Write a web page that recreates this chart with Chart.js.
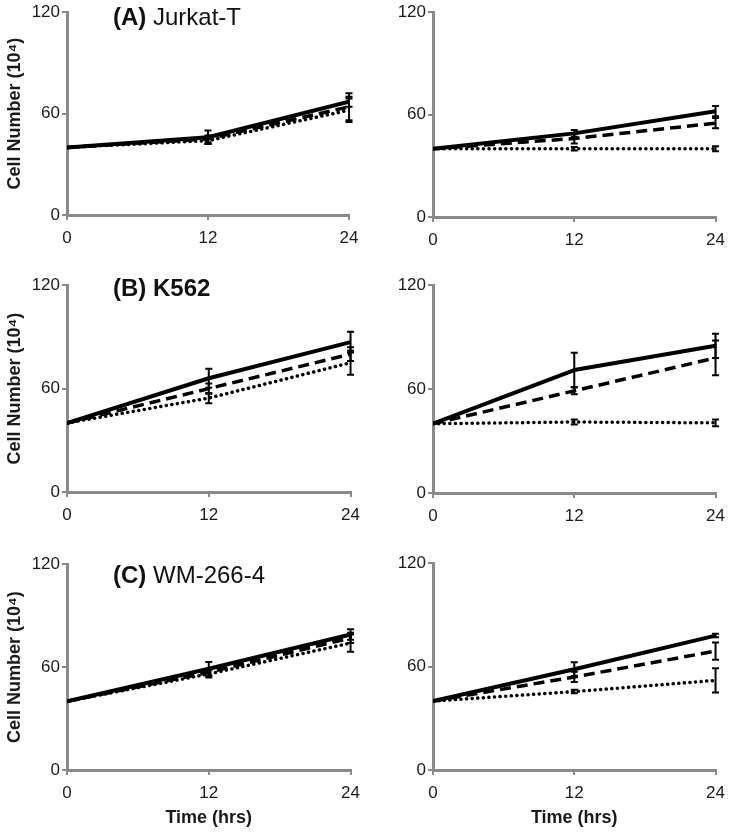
<!DOCTYPE html>
<html>
<head>
<meta charset="utf-8">
<script src="https://cdn.jsdelivr.net/npm/chart.js@4/dist/chart.umd.min.js"></script>
<style>
  html, body { margin: 0; padding: 0; background: #fff; }
  #wrap { position: relative; width: 733px; height: 832px; overflow: hidden; font-family: "Liberation Sans", Arial, sans-serif; }
  canvas { position: absolute; }
  .lbl { position: absolute; font-size: 24px; color: #111; white-space: nowrap; line-height: 1; }
  .lbl b { font-weight: bold; }
</style>
</head>
<body>
<div id="wrap">
  <canvas id="cAL"></canvas>
  <canvas id="cAR"></canvas>
  <canvas id="cBL"></canvas>
  <canvas id="cBR"></canvas>
  <canvas id="cCL"></canvas>
  <canvas id="cCR"></canvas>
  <div class="lbl" style="left:113px;top:5px;"><b>(A)</b> Jurkat-T</div>
  <div class="lbl" style="left:113px;top:276px;"><b>(B) K562</b></div>
  <div class="lbl" style="left:113px;top:563px;"><b>(C)</b> WM-266-4</div>
</div>
<script>
// ---------------- DATA ----------------
const hours = [0, 12, 24];
const yTickValues = [0, 60, 120];
const xTickValues = [0, 12, 24];
const yAxisTitle = 'Cell Number (10\u2074)';
const xAxisTitle = 'Time (hrs)';

// Jurkat-T, left panel
const jurkatL_solid  = [40, 46, 67];
const jurkatL_dashed = [40, 45, 64];
const jurkatL_dotted = [40, 44, 62];
const jurkatL_solidErr  = [0, 4, 3];
const jurkatL_dashedErr = [0, 2, 8];
const jurkatL_dottedErr = [0, 2, 7];

// Jurkat-T, right panel
const jurkatR_solid  = [40, 49, 62];
const jurkatR_dashed = [40, 46, 55];
const jurkatR_dotted = [40, 40, 40];
const jurkatR_solidErr  = [0, 2, 3];
const jurkatR_dashedErr = [0, 3, 3];
const jurkatR_dottedErr = [0, 1, 1.5];

// K562, left panel
const k562L_solid  = [40, 66, 87];
const k562L_dashed = [40, 60, 80];
const k562L_dotted = [40, 54.5, 75];
const k562L_solidErr  = [0, 5.5, 6];
const k562L_dashedErr = [0, 3, 4];
const k562L_dottedErr = [0, 3, 7];

// K562, right panel
const k562R_solid  = [40, 71, 85];
const k562R_dashed = [40, 59, 78];
const k562R_dotted = [40, 41, 40.5];
const k562R_solidErr  = [0, 10, 7];
const k562R_dashedErr = [0, 2, 10];
const k562R_dottedErr = [0, 1.5, 2];

// WM-266-4, left panel
const wmL_solid  = [40, 59, 79];
const wmL_dashed = [40, 57, 77];
const wmL_dotted = [40, 56, 74];
const wmL_solidErr  = [0, 4, 3];
const wmL_dashedErr = [0, 2, 3];
const wmL_dottedErr = [0, 2, 5];

// WM-266-4, right panel
const wmR_solid  = [40, 58.5, 78];
const wmR_dashed = [40, 54, 69];
const wmR_dotted = [40, 45.5, 52];
const wmR_solidErr  = [0, 4, 1];
const wmR_dashedErr = [0, 3, 5];
const wmR_dottedErr = [0, 1, 7];

// ---------------- RENDERING ----------------
const AXIS_GREY = '#8a8a8a';
const TEXT = '#1a1a1a';
const FONT = '"Liberation Sans", Arial, sans-serif';

const errorBarPlugin = {
  id: 'errorBars',
  afterDatasetsDraw(chart) {
    const ctx = chart.ctx;
    const xs = chart.scales.x, ys = chart.scales.y;
    ctx.save();
    ctx.strokeStyle = '#000';
    ctx.lineWidth = 2;
    ctx.lineCap = 'butt';
    ctx.setLineDash([]);
    chart.data.datasets.forEach(ds => {
      const errs = ds.errors || [];
      ds.data.forEach((pt, i) => {
        const e = errs[i];
        if (!e) return;
        const px = xs.getPixelForValue(pt.x);
        const y1 = ys.getPixelForValue(pt.y + e);
        const y2 = ys.getPixelForValue(pt.y - e);
        ctx.beginPath();
        ctx.moveTo(px, y1); ctx.lineTo(px, y2);
        ctx.moveTo(px - 3.5, y1); ctx.lineTo(px + 3.5, y1);
        ctx.moveTo(px - 3.5, y2); ctx.lineTo(px + 3.5, y2);
        ctx.stroke();
      });
    });
    ctx.restore();
  }
};

function pts(vals) { return vals.map((v, i) => ({ x: hours[i], y: v })); }

function makePanel(id, geom, series, showYTitle, showXTitle) {
  const cv = document.getElementById(id);
  const cw = geom.cw, ch = geom.ch;
  cv.style.left = geom.cx + 'px';
  cv.style.top = geom.cy + 'px';
  cv.width = cw; cv.height = ch;
  cv.style.width = cw + 'px'; cv.style.height = ch + 'px';

  const styles = [
    { borderWidth: 4, borderDash: [], borderCapStyle: 'butt' },
    { borderWidth: 3.5, borderDash: [11, 6], borderCapStyle: 'butt' },
    { borderWidth: 3.5, borderDash: [0.1, 5.5], borderCapStyle: 'round' }
  ];

  const datasets = series.map((s, k) => Object.assign({
    data: pts(s.values),
    errors: s.errors,
    borderColor: '#000',
    backgroundColor: '#000',
    pointRadius: 0,
    tension: 0,
    fill: false,
    borderJoinStyle: 'round'
  }, styles[k]));

  new Chart(cv, {
    type: 'line',
    data: { datasets },
    options: {
      responsive: false,
      animation: false,
      devicePixelRatio: 1,
      layout: { padding: { left: 0, right: geom.padR, top: geom.padT, bottom: 0 } },
      plugins: { legend: { display: false }, tooltip: { enabled: false } },
      scales: {
        x: {
          type: 'linear', min: 0, max: 24,
          afterBuildTicks: sc => { sc.ticks = xTickValues.map(v => ({ value: v })); },
          afterFit: sc => { sc.height = geom.xh; },
          grid: { display: true, drawOnChartArea: false, drawTicks: true, tickLength: 5, color: AXIS_GREY, lineWidth: 2 },
          border: { display: true, color: AXIS_GREY, width: 3 },
          ticks: { color: TEXT, font: { family: FONT, size: 17 }, padding: 8, maxRotation: 0 },
          title: { display: showXTitle, text: xAxisTitle, color: TEXT, font: { family: FONT, size: 18, weight: 'bold' }, padding: { top: 0, bottom: 3 } }
        },
        y: {
          type: 'linear', min: 0, max: 120,
          afterBuildTicks: sc => { sc.ticks = yTickValues.map(v => ({ value: v })); },
          afterFit: sc => { sc.width = geom.yw; },
          grid: { display: true, drawOnChartArea: false, drawTicks: true, tickLength: 5, color: AXIS_GREY, lineWidth: 2 },
          border: { display: true, color: AXIS_GREY, width: 3 },
          ticks: { color: TEXT, font: { family: FONT, size: 17 }, padding: 2 },
          title: { display: showYTitle, text: yAxisTitle, color: TEXT, font: { family: FONT, size: 18, weight: 'bold' }, padding: { top: 4, bottom: 0 } }
        }
      }
    },
    plugins: [errorBarPlugin]
  });
}

// plot-area geometry (page pixels)
function geomFor(side, top, bottom, right, lastRow) {
  const isLeft = side === 'L';
  const cx = isLeft ? 0 : 370;
  const plotLeft = isLeft ? 67 : 433;
  const cy = Math.max(0, top - 10);
  const padT = top - cy;
  const xh = lastRow ? 832 - bottom : 42;
  const ch = (bottom - cy) + xh;
  const cw = isLeft ? 368 : 363;
  return { cx, cy, cw, ch, padT, padR: (cx + cw) - right, yw: plotLeft - cx, xh };
}

makePanel('cAL', geomFor('L', 7, 215, 349, false), [
  { values: jurkatL_solid, errors: jurkatL_solidErr },
  { values: jurkatL_dashed, errors: jurkatL_dashedErr },
  { values: jurkatL_dotted, errors: jurkatL_dottedErr }], true, false);
makePanel('cAR', geomFor('R', 7, 217, 718, false), [
  { values: jurkatR_solid, errors: jurkatR_solidErr },
  { values: jurkatR_dashed, errors: jurkatR_dashedErr },
  { values: jurkatR_dotted, errors: jurkatR_dottedErr }], false, false);
makePanel('cBL', geomFor('L', 283, 492, 352, false), [
  { values: k562L_solid, errors: k562L_solidErr },
  { values: k562L_dashed, errors: k562L_dashedErr },
  { values: k562L_dotted, errors: k562L_dottedErr }], true, false);
makePanel('cBR', geomFor('R', 283, 493, 718, false), [
  { values: k562R_solid, errors: k562R_solidErr },
  { values: k562R_dashed, errors: k562R_dashedErr },
  { values: k562R_dotted, errors: k562R_dottedErr }], false, false);
makePanel('cCL', geomFor('L', 562, 770, 356, true), [
  { values: wmL_solid, errors: wmL_solidErr },
  { values: wmL_dashed, errors: wmL_dashedErr },
  { values: wmL_dotted, errors: wmL_dottedErr }], true, true);
makePanel('cCR', geomFor('R', 561, 770, 718, true), [
  { values: wmR_solid, errors: wmR_solidErr },
  { values: wmR_dashed, errors: wmR_dashedErr },
  { values: wmR_dotted, errors: wmR_dottedErr }], false, true);
</script>
</body>
</html>
